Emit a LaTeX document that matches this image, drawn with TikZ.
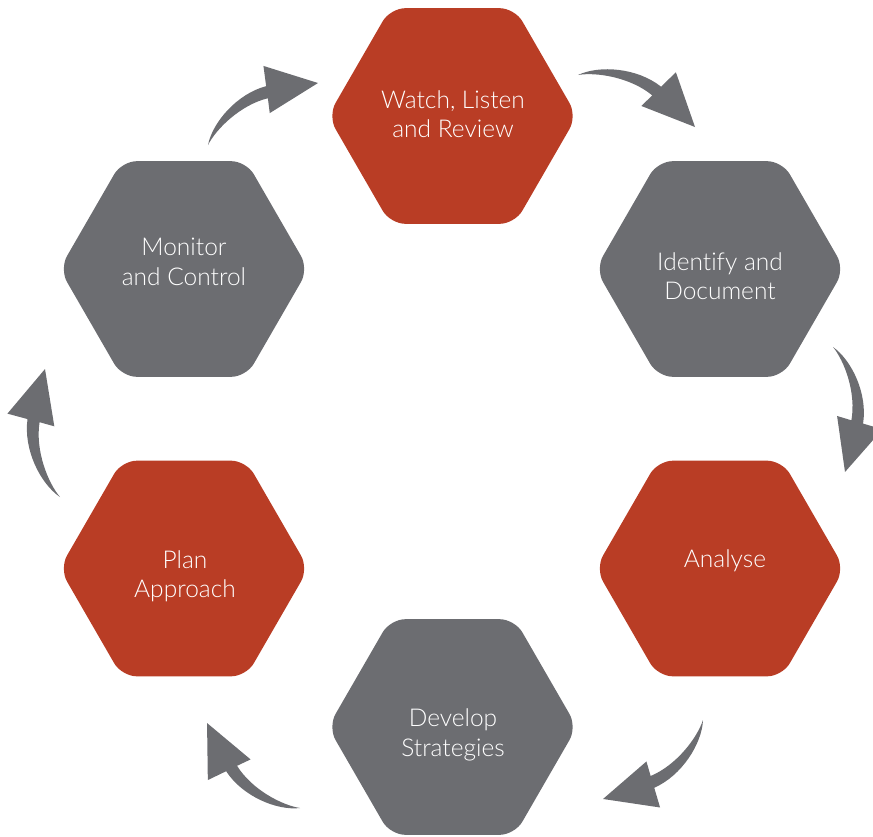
\documentclass[tikz,border=0pt]{standalone}
\usepackage{fontspec}
\newfontfamily\hexfont{Lato Light}[Ligatures=NoCommon]
\usetikzlibrary{shapes.geometric}
\definecolor{hexred}{HTML}{B93D25}
\definecolor{hexgray}{HTML}{6C6D71}
\definecolor{arrowgray}{HTML}{6C6D71}
\tikzset{
  hexbox/.style={regular polygon, regular polygon sides=6, minimum size=249pt,
    inner sep=0pt, outer sep=0pt, rounded corners=15pt, draw=none},
  redhex/.style={hexbox, fill=hexred},
  grayhex/.style={hexbox, fill=hexgray},
  hextext/.style={text=white, align=center, inner sep=0pt,
    font=\hexfont\fontsize{24.5pt}{29.5pt}\selectfont},
}
% tapered curved arrow from tail (#1,#2) to tip (#3,#4), image coordinates
\newcommand\garrow[4]{%
  \pgfmathsetmacro\gang{atan2(-(#4)+(#2),(#3)-(#1))}%
  \pgfmathsetmacro\glen{veclen((#3)-(#1),(#4)-(#2))/100}%
  \begin{scope}[shift={(#1,-#2)},rotate=\gang,scale=\glen]
    \fill[arrowgray] (0,0) .. controls (12,14) and (40,24) .. (63,18)
      -- (69,33) -- (100,0) -- (55,-2) -- (59.5,9)
      .. controls (38,15) and (12,8) .. (0,0) -- cycle;
  \end{scope}}
\begin{document}
\begin{tikzpicture}[x=1pt,y=1pt]
\useasboundingbox (0,0) rectangle (873,-836);
\node[redhex]  (watch)    at (452.5,-116) {};
\node[grayhex] (identify) at (720,-269) {};
\node[redhex]  (analyse)  at (720,-568.5) {};
\node[grayhex] (develop)  at (452.5,-727) {};
\node[redhex]  (plan)     at (184,-568.5) {};
\node[grayhex] (monitor)  at (184,-269) {};
\node[hextext] (watch-t)    at (453,-114) {Watch, Listen\\and Review};
\node[hextext] (identify-t) at (720,-276) {Identify and\\Document};
\node[hextext] (analyse-t)  at (725,-561) {Analyse};
\node[hextext] (develop-t)  at (453,-735) {Develop\\Strategies};
\node[hextext] (plan-t)     at (185,-576) {Plan\\Approach};
\node[hextext] (monitor-t)  at (184,-262) {Monitor\\and Control};
\garrow{208}{145}{318}{83}
\garrow{578}{75}{695}{127}
\garrow{833}{347}{845}{472}
\garrow{703}{720}{603}{799}
\garrow{300}{808}{207}{723}
\garrow{60}{497}{45}{369}
\end{tikzpicture}
\end{document}
